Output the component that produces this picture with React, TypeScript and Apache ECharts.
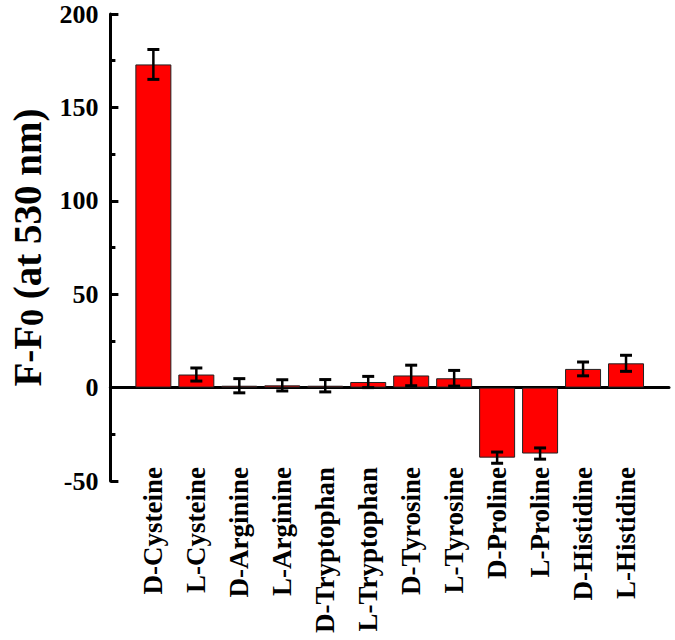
import React, { useEffect, useRef } from "react";
import * as echarts from "echarts";

const categories = [
  "D-Cysteine", "L-Cysteine", "D-Arginine", "L-Arginine", "D-Tryptophan", "L-Tryptophan",
  "D-Tyrosine", "L-Tyrosine", "D-Proline", "L-Proline", "D-Histidine", "L-Histidine",
];
const values = [173, 7, 1, 1.2, 1, 3, 6.5, 5, -37.5, -35.3, 10, 13];
const errors = [8, 3.5, 3.8, 3, 3.3, 3, 5.5, 4.2, 3, 3, 3.7, 4.3];
const yTicks = { min: -50, max: 200, interval: 50 };

const FONT = "'Liberation Serif', 'Times New Roman', serif";

export default function App() {
  const ref = useRef<HTMLDivElement>(null);
  useEffect(() => {
    document.body.style.margin = "0";
    document.body.style.overflow = "hidden";
    if (!ref.current) return;
    const chart = echarts.init(ref.current, null, { renderer: "svg" });
    const axisData = ["", ...categories, ""];
    const barData = [null, ...values, null];
    const errData = categories.map((_, i) => [i + 1, values[i] - errors[i], values[i] + errors[i]]);
    chart.setOption({
      animation: false,
      backgroundColor: "#fff",
      grid: { left: 96, right: 6, top: 14, bottom: 159, containLabel: false },
      xAxis: [
        {
          type: "category",
          data: axisData,
          boundaryGap: false,
          axisLine: { onZero: true, lineStyle: { color: "#000", width: 3 } },
          axisTick: { show: false },
          axisLabel: { show: false },
          splitLine: { show: false },
        },
        {
          type: "category",
          data: axisData,
          boundaryGap: false,
          position: "bottom",
          axisLine: { show: false, onZero: false },
          axisTick: { show: false },
          axisLabel: {
            show: true,
            interval: 0,
            rotate: 90,
            margin: -14,
            color: "#000",
            fontFamily: FONT,
            fontWeight: "bold",
            fontSize: 27,
          },
          splitLine: { show: false },
        },
      ],
      yAxis: {
        type: "value",
        min: yTicks.min,
        max: yTicks.max,
        interval: yTicks.interval,
        name: "{a|F-F}{b|0}{a| (at 530 nm)}",
        nameLocation: "middle",
        nameGap: 61,
        nameTextStyle: {
          color: "#000",
          fontFamily: FONT,
          fontWeight: "bold",
          fontSize: 39,
          rich: {
            a: { fontFamily: FONT, fontWeight: "bold", fontSize: 39, color: "#000" },
            b: { fontFamily: FONT, fontWeight: "bold", fontSize: 34, color: "#000", padding: [8, 0, 0, 0] },
          },
        },
        axisLine: { show: true, lineStyle: { color: "#000", width: 3 } },
        axisTick: { show: true, inside: true, length: 8, lineStyle: { color: "#000", width: 3 } },
        minorTick: { show: true, splitNumber: 2, length: 5, lineStyle: { color: "#000", width: 3 } },
        splitLine: { show: false },
        axisLabel: {
          color: "#000",
          fontFamily: FONT,
          fontWeight: "bold",
          fontSize: 26,
          margin: 12,
        },
      },
      series: [
        {
          type: "bar",
          data: barData,
          barWidth: 36,
          itemStyle: { color: "#ff0000", borderColor: "#222", borderWidth: 1 },
          z: 2,
        },
        {
          type: "custom",
          data: errData,
          z: 5,
          renderItem: (params: any, api: any) => {
            const x = api.value(0);
            const lo = api.coord([x, api.value(1)]);
            const hi = api.coord([x, api.value(2)]);
            const cx = lo[0];
            const hw = 6;
            const style = { stroke: "#000", lineWidth: 2.5 };
            return {
              type: "group",
              children: [
                { type: "line", shape: { x1: cx, y1: lo[1], x2: cx, y2: hi[1] }, style },
                { type: "line", shape: { x1: cx - hw, y1: lo[1], x2: cx + hw, y2: lo[1] }, style: { stroke: "#000", lineWidth: 3 } },
                { type: "line", shape: { x1: cx - hw, y1: hi[1], x2: cx + hw, y2: hi[1] }, style: { stroke: "#000", lineWidth: 3 } },
              ],
            };
          },
        },
      ],
    });
    return () => chart.dispose();
  }, []);
  return <div ref={ref} style={{ width: 675, height: 640 }} />;
}
